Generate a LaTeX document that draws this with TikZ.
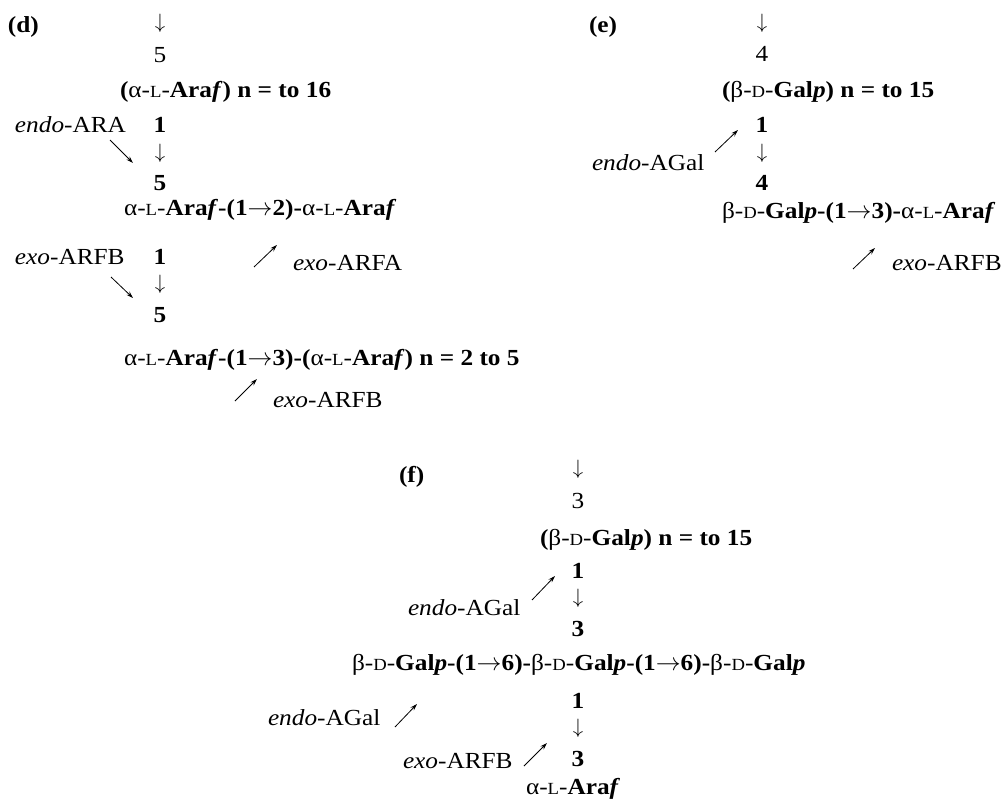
\documentclass[tikz,border=0pt]{standalone}
\usepackage{fontspec}
\setmainfont{Liberation Serif}[FakeStretch=1.1]
\usetikzlibrary{arrows.meta, positioning}

\newcommand{\smc}[1]{{\fontsize{17}{20}\selectfont #1}}
\newcommand{\aL}{{\mdseries α-\smc{L}-}}
\newcommand{\bD}{{\mdseries β-\smc{D}-}}
\newcommand{\Araf}{Ara\textit{f}}
\newcommand{\Galp}{Gal\textit{p}}
\newcommand{\lnk}{$\rightarrow$}
\newcommand{\dn}{$\downarrow$}

\begin{document}
\begin{tikzpicture}[
    x=1pt, y=-1pt,
    every node/.style={inner sep=0pt, outer sep=0pt},
    sugarline/.style={anchor=base west, font=\fontsize{23}{27}\selectfont\bfseries},
    linkpos/.style={anchor=base, font=\fontsize{23}{27}\selectfont\bfseries},
    toppos/.style={anchor=base, font=\fontsize{23}{27}\selectfont},
    arrowdown/.style={anchor=base, font=\fontsize{20.74}{24}\selectfont, yshift=4pt},
    enzyme/.style={anchor=base west, font=\fontsize{23}{27}\selectfont},
    panellabel/.style={anchor=base west, font=\fontsize{23}{27}\selectfont\bfseries},
    cleave/.style={-{Stealth[length=7pt, width=4.5pt]}, line width=0.8pt}
]
\useasboundingbox (0,0) rectangle (1002,800);

% Panel (d), arabinan side chain
\node[panellabel] (dlab) at (8,33) {(d)};
\node[arrowdown] (dar0) at (160,33) {\dn};
\node[toppos] (d5a) at (160,63) {5};
\node[sugarline] (dch1) at (120,98) {(\aL\Araf) n = to 16};
\node[linkpos] (d1a) at (160,132) {1};
\node[enzyme] (dendo) at (15,132) {\textit{endo}-ARA};
\node[arrowdown] (dar1) at (160,162) {\dn};
\node[linkpos] (d5b) at (160,190) {5};
\node[sugarline] (dch2) at (124,215) {\aL\Araf-(1\lnk2)-\aL\Araf};
\node[linkpos] (d1b) at (160,264) {1};
\node[enzyme] (dexo1) at (15,264) {\textit{exo}-ARFB};
\node[enzyme] (dexo2) at (293,270) {\textit{exo}-ARFA};
\node[arrowdown] (dar2) at (160,293) {\dn};
\node[linkpos] (d5c) at (160,322) {5};
\node[sugarline] (dch3) at (124,365) {\aL\Araf-(1\lnk3)-(\aL\Araf) n = 2 to 5};
\node[enzyme] (dexo3) at (273,407) {\textit{exo}-ARFB};

\coordinate (dc1a) at (110,140); \coordinate (dc1b) at (133,163);
\coordinate (dc2a) at (254,267); \coordinate (dc2b) at (277,245);
\coordinate (dc3a) at (111,277); \coordinate (dc3b) at (133,298);
\coordinate (dc4a) at (235,401); \coordinate (dc4b) at (257,379);
\draw[cleave] (dc1a) -- (dc1b);
\draw[cleave] (dc2a) -- (dc2b);
\draw[cleave] (dc3a) -- (dc3b);
\draw[cleave] (dc4a) -- (dc4b);

% Panel (e), galactan chain
\node[panellabel] (elab) at (589,33) {(e)};
\node[arrowdown] (ear0) at (762,33) {\dn};
\node[toppos] (e4a) at (762,62) {4};
\node[sugarline] (ech1) at (722,98) {(\bD\Galp) n = to 15};
\node[linkpos] (e1a) at (762,132) {1};
\node[enzyme] (eendo) at (592,170) {\textit{endo}-AGal};
\node[arrowdown] (ear1) at (762,162) {\dn};
\node[linkpos] (e4b) at (762,190) {4};
\node[sugarline] (ech2) at (722,218) {\bD\Galp-(1\lnk3)-\aL\Araf};
\node[enzyme] (eexo) at (892,270) {\textit{exo}-ARFB};

\coordinate (ec1a) at (715,152); \coordinate (ec1b) at (738,130);
\coordinate (ec2a) at (853,269); \coordinate (ec2b) at (875,248);
\draw[cleave] (ec1a) -- (ec1b);
\draw[cleave] (ec2a) -- (ec2b);

% Panel (f), branched galactan
\node[panellabel] (flab) at (399,482) {(f)};
\node[arrowdown] (far0) at (578,478) {\dn};
\node[toppos] (f3a) at (578,508) {3};
\node[sugarline] (fch1) at (540,545) {(\bD\Galp) n = to 15};
\node[linkpos] (f1a) at (578,578) {1};
\node[enzyme] (fendo1) at (408,615) {\textit{endo}-AGal};
\node[arrowdown] (far1) at (578,607) {\dn};
\node[linkpos] (f3b) at (578,636) {3};
\node[sugarline] (fch2) at (352,670) {\bD\Galp-(1\lnk6)-\bD\Galp-(1\lnk6)-\bD\Galp};
\node[linkpos] (f1b) at (578,708) {1};
\node[enzyme] (fendo2) at (268,725) {\textit{endo}-AGal};
\node[arrowdown] (far2) at (578,737) {\dn};
\node[linkpos] (f3c) at (578,766) {3};
\node[enzyme] (fexo) at (403,768) {\textit{exo}-ARFB};
\node[sugarline] (fch3) at (526,794) {\aL\Araf};

\coordinate (fc1a) at (532,600); \coordinate (fc1b) at (555,576);
\coordinate (fc2a) at (395,727); \coordinate (fc2b) at (417,704);
\coordinate (fc3a) at (524,766); \coordinate (fc3b) at (547,743);
\draw[cleave] (fc1a) -- (fc1b);
\draw[cleave] (fc2a) -- (fc2b);
\draw[cleave] (fc3a) -- (fc3b);

\end{tikzpicture}
\end{document}
